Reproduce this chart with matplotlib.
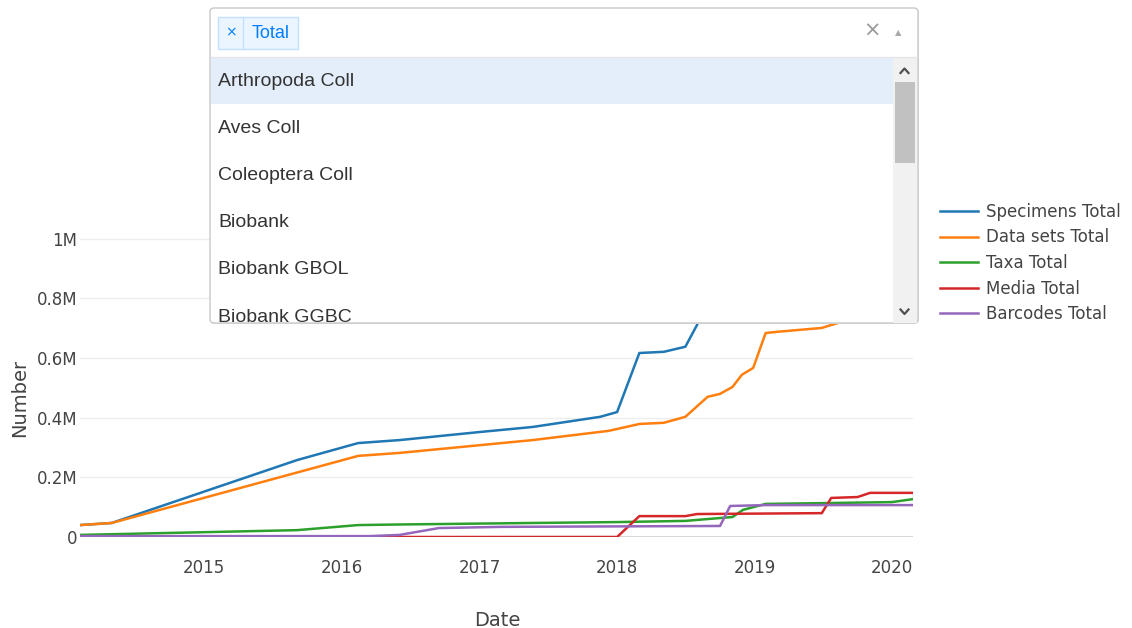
import matplotlib.pyplot as plt
import matplotlib.dates as mdates
from matplotlib.patches import Rectangle, FancyBboxPatch
from matplotlib.ticker import FuncFormatter
import pandas as pd

# series (values in counts)
specimens_dates = ['2014-02-06', '2014-05-01', '2015-09-05', '2016-02-14', '2016-06-03',
                   '2017-01-01', '2017-05-22', '2017-11-17', '2018-01-01', '2018-03-01',
                   '2018-05-05', '2018-07-01', '2018-08-01', '2018-09-15', '2018-11-01',
                   '2019-02-01', '2019-08-01', '2020-02-25']
specimens = [40e3, 47e3, 258e3, 315e3, 325e3, 352e3, 369e3, 403e3, 419e3, 617e3,
             621e3, 638e3, 711e3, 880e3, 960e3, 1030e3, 1080e3, 1120e3]

datasets_dates = ['2014-02-06', '2014-05-01', '2016-02-14', '2016-06-03', '2017-05-22',
                  '2017-12-10', '2018-03-01', '2018-05-05', '2018-07-01', '2018-08-29',
                  '2018-10-01', '2018-11-03', '2018-11-28', '2018-12-28', '2019-01-30',
                  '2019-03-01', '2019-06-28', '2019-07-23', '2020-02-25']
datasets = [40e3, 47e3, 272e3, 282e3, 325e3, 356e3, 379e3, 383e3, 403e3, 470e3,
            480e3, 503e3, 544e3, 567e3, 684e3, 688e3, 701e3, 711e3, 790e3]

taxa_dates = ['2014-02-06', '2015-09-05', '2016-02-14', '2016-06-03', '2017-05-22',
              '2018-01-01', '2018-07-01', '2018-11-03', '2018-12-01', '2019-01-30',
              '2019-07-23', '2019-12-31', '2020-02-25']
taxa = [7e3, 23e3, 40e3, 42e3, 47e3, 50e3, 54e3, 67e3, 91e3, 111e3, 114e3, 117e3, 127e3]

media_dates = ['2014-02-06', '2018-01-01', '2018-03-01', '2018-07-01', '2018-08-01',
               '2019-06-28', '2019-07-23', '2019-10-01', '2019-11-03', '2020-02-25']
media = [0, 0, 70e3, 70e3, 77e3, 80e3, 131e3, 134e3, 148e3, 148e3]

barcodes_dates = ['2014-02-06', '2016-03-15', '2016-06-03', '2016-09-15', '2017-03-01',
                  '2018-10-01', '2018-10-28', '2019-01-30', '2020-02-25']
barcodes = [3e3, 3e3, 7e3, 30e3, 34e3, 37e3, 104e3, 107e3, 107e3]

series = [
    ('Specimens Total', specimens_dates, specimens, '#1f77b4'),
    ('Data sets Total', datasets_dates, datasets, '#ff7f0e'),
    ('Taxa Total', taxa_dates, taxa, '#2ca02c'),
    ('Media Total', media_dates, media, '#d62728'),
    ('Barcodes Total', barcodes_dates, barcodes, '#9467bd'),
]

menu_items = ['Arthropoda Coll', 'Aves Coll', 'Coleoptera Coll', 'Biobank',
              'Biobank GBOL', 'Biobank GGBC']
selected = 'Total'

W, H = 1132, 628
fig = plt.figure(figsize=(W / 100, H / 100), dpi=100)

# plot area in pixels: left 80, right 913, top 203, bottom 537
ax = fig.add_axes([80 / W, 1 - 537 / H, (913 - 80) / W, (537 - 203) / H])
for name, d, v, c in series:
    ax.plot(pd.to_datetime(d), v, color=c, lw=1.8, label=name, solid_joinstyle='round')

ax.set_xlim(pd.Timestamp('2014-02-06'), pd.Timestamp('2020-02-25'))
ax.set_ylim(0, 1.12e6)
ax.set_yticks([0, 0.2e6, 0.4e6, 0.6e6, 0.8e6, 1e6])
ax.yaxis.set_major_formatter(FuncFormatter(lambda v, p: '0' if v == 0 else '%gM' % (v / 1e6)))
ax.xaxis.set_major_locator(mdates.YearLocator())
ax.xaxis.set_major_formatter(mdates.DateFormatter('%Y'))
ax.grid(axis='y', color='#eeeeee', lw=1)
ax.axhline(0, color='#444444', lw=1, zorder=1)
ax.set_axisbelow(True)
for s in ax.spines.values():
    s.set_visible(False)
ax.tick_params(axis='both', length=0, labelsize=12, labelcolor='#444444')
ax.tick_params(axis='x', pad=16)
ax.tick_params(axis='y', pad=2)

fig.text(20 / W, 1 - 398 / H, 'Number', rotation=90, ha='center', va='center',
         fontsize=14, color='#444444')
fig.text(497 / W, 1 - 620 / H, 'Date', ha='center', va='center', fontsize=14, color='#444444')

ax.legend(loc='upper left', bbox_to_anchor=(940 / W, 1 - 203 / H), bbox_transform=fig.transFigure,
          frameon=False, fontsize=12, labelcolor='#444444', handlelength=2.3,
          handletextpad=0.45, labelspacing=0.45, borderpad=0, borderaxespad=0)

# dropdown overlay drawn in pixel coordinates
ov = fig.add_axes([0, 0, 1, 1])
ov.set_xlim(0, W)
ov.set_ylim(H, 0)
ov.axis('off')

ov.add_patch(FancyBboxPatch((211, 9), 708, 315, boxstyle='round,pad=0,rounding_size=4',
                            fc='#e4e4e4', ec='none'))
ov.add_patch(FancyBboxPatch((210, 8), 708, 315, boxstyle='round,pad=0,rounding_size=4',
                            fc='white', ec='#c8c8c8', lw=1))

# selected tag
ov.add_patch(Rectangle((218, 17), 80, 32, fc='#ebf5ff', ec='#c2e0ff', lw=1))
ov.plot([243, 243], [17, 49], color='#c2e0ff', lw=1)
ov.text(230.5, 32, '×', color='#007eff', fontsize=10, ha='center', va='center',
        family='DejaVu Sans')
ov.text(252, 33, selected, color='#007eff', fontsize=13, ha='left', va='center',
        family='Liberation Sans')
ov.text(872, 31, '×', color='#999999', fontsize=15, ha='center', va='center')
ov.text(898, 33, '▲', color='#aaaaaa', fontsize=6, ha='center', va='center')

# menu
ov.plot([211, 917], [57, 57], color='#e6e6e6', lw=1)
menu_clip = Rectangle((211, 57), 706, 266, transform=ov.transData)
ov.add_patch(Rectangle((211, 57), 682, 47, fc='#e3eefa', ec='none'))
for i, item in enumerate(menu_items):
    t = ov.text(218, 81 + i * 47.2, item, color='#333333', fontsize=14, ha='left', va='center',
                family='Liberation Sans')
    t.set_clip_path(menu_clip)

# scrollbar
ov.add_patch(Rectangle((893, 58), 24, 265, fc='#f1f1f1', ec='none'))
ov.add_patch(Rectangle((895, 82), 20, 81, fc='#c1c1c1', ec='none'))
ov.plot([900.5, 904.5, 908.5], [73, 68.5, 73], color='#505050', lw=1.6)
ov.plot([900.5, 904.5, 908.5], [309.5, 314, 309.5], color='#505050', lw=1.6)

fig.savefig('out.png', dpi=100)
